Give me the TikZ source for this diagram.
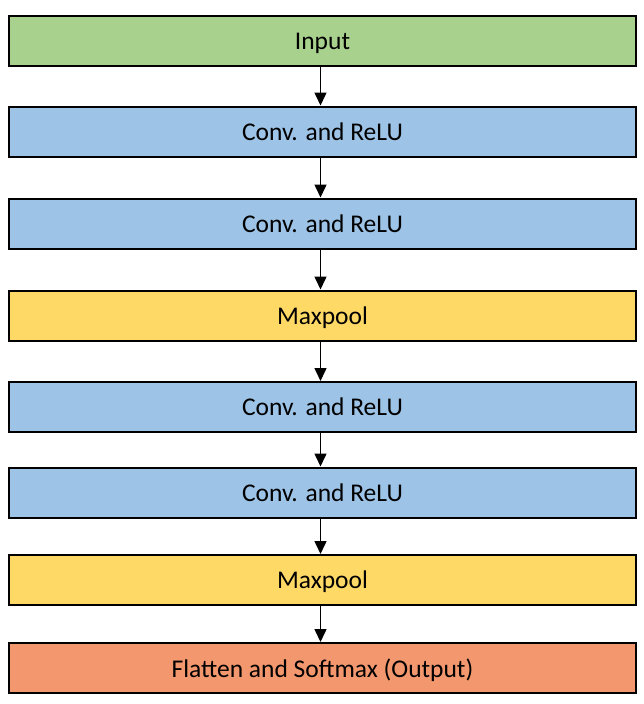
\documentclass[tikz,border=0pt]{standalone}
\usepackage{fontspec}
\setmainfont{Carlito}
\usetikzlibrary{arrows.meta}
\definecolor{ingreen}{HTML}{A9D18E}
\definecolor{convblue}{HTML}{9DC3E6}
\definecolor{poolyellow}{HTML}{FFD966}
\definecolor{outorange}{HTML}{F3986E}
\tikzset{layer/.style={draw,line width=2pt,minimum width=627pt,minimum height=50pt,inner sep=0pt,text depth=0pt,font=\fontsize{25.5}{30}\selectfont}}
\begin{document}
\begin{tikzpicture}[x=1pt,y=1pt,>={Triangle[width=12pt,length=13pt]}]
\useasboundingbox(0,0)rectangle(644,-704);
\node[layer,fill=ingreen](input)at(322.5,-41){Input};
\node[layer,fill=convblue](conv1)at(322.5,-131.5){Conv. and ReLU};
\node[layer,fill=convblue](conv2)at(322.5,-223.5){Conv. and ReLU};
\node[layer,fill=poolyellow](pool1)at(322.5,-315.5){Maxpool};
\node[layer,fill=convblue](conv3)at(322.5,-407){Conv. and ReLU};
\node[layer,fill=convblue](conv4)at(322.5,-492.5){Conv. and ReLU};
\node[layer,fill=poolyellow](pool2)at(322.5,-580){Maxpool};
\node[layer,fill=outorange](output)at(322.5,-668){Flatten and Softmax (Output)};
\foreach \a/\b in {input/conv1,conv1/conv2,conv2/pool1,pool1/conv3,conv3/conv4,conv4/pool2,pool2/output}
\draw[->,line width=1.5pt]([xshift=-2pt]\a.south)--([xshift=-2pt]\b.north);
\end{tikzpicture}
\end{document}
